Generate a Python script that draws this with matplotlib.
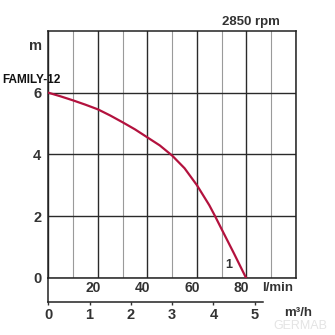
import matplotlib
matplotlib.use("Agg")
import matplotlib.pyplot as plt
import matplotlib.transforms as mtransforms

# pump curve: flow in l/min, head in m
flow_lmin = [0, 5, 10, 15, 20, 25, 30, 35, 40, 45, 50, 55, 60, 65, 67.3, 70, 75, 79.8]
head_m = [6.0, 5.88, 5.75, 5.61, 5.46, 5.26, 5.04, 4.81, 4.55, 4.29, 3.96, 3.55,
          3.0, 2.35, 2.0, 1.57, 0.78, 0.0]

lmin_labels = [20, 40, 60, 80]
m3h_ticks = [0, 1, 2, 3, 4, 5]
head_ticks = [0, 2, 4, 6]

W = H = 335.0
plt.rcParams['font.family'] = ['Liberation Sans', 'DejaVu Sans']
txt = '#333333'
red = '#b3123e'

fig = plt.figure(figsize=(3.35, 3.35), dpi=100)

# main chart box: 48..296 px wide, 31..278 px high
ax = fig.add_axes([48.3 / W, 1 - 277.7 / H, 247.7 / W, 246.7 / H])
ax.set_xlim(0, 100)
ax.set_ylim(0, 8)
ax.set_xticks(range(0, 101, 20))
ax.set_xticks(range(10, 100, 20), minor=True)
ax.set_yticks(head_ticks)
ax.set_yticklabels([str(v) for v in head_ticks])
ax.tick_params(axis='x', which='both', length=0, labelbottom=False)
ax.tick_params(axis='y', length=0, pad=5, labelsize=10.5, labelcolor=txt)
for lab in ax.get_yticklabels():
    lab.set_fontweight('bold')
ax.grid(which='major', color='#2a2a2a', lw=1.0)
ax.grid(which='minor', axis='x', color='#9a9a9a', lw=0.8)
for s in ax.spines.values():
    s.set_color('#222222')
    s.set_linewidth(1.1)

ax.plot(flow_lmin, head_m, color=red, lw=1.6, solid_capstyle='round',
        solid_joinstyle='round', zorder=5)

ytrans = ax.get_yaxis_transform()
ax.text(-0.025, 7.5, 'm', transform=ytrans, ha='right', va='center',
        fontsize=10.5, fontweight='bold', color=txt)
ax.text(-0.185, 6.42, 'FAMILY-12', transform=ytrans, ha='left', va='center',
        fontsize=8.5, fontweight='bold', color='#111111')
ax.text(0.82, 1.038, '2850 rpm', transform=ax.transAxes, ha='center', va='center',
        fontsize=9.5, fontweight='bold', color=txt)
ax.text(73, 0.42, '1', ha='center', va='center', fontsize=9, fontweight='bold', color=txt)

# l/min labels sit in the strip under the box, a little left of their lines
shift = mtransforms.offset_copy(ax.transData, fig=fig, x=-5, y=0, units='dots')
for v in lmin_labels:
    ax.text(v, -0.33, str(v), transform=shift, ha='center', va='center',
            fontsize=10, fontweight='bold', color=txt, clip_on=False)
ax.text(92.5, -0.33, 'l/min', ha='center', va='center', fontsize=9.5,
        fontweight='bold', color=txt, clip_on=False)

# second scale in m3/h
ax2 = fig.add_axes([48.3 / W, 1 - 302 / H, 214.7 / W, 24.3 / H])
ax2.set_xlim(0, 5.2)
ax2.set_ylim(0, 1)
ax2.patch.set_alpha(0)
ax2.set_xticks(m3h_ticks)
ax2.set_xticklabels([str(v) for v in m3h_ticks])
ax2.set_yticks([])
ax2.tick_params(axis='x', direction='out', length=2.5, width=1, color='#333333',
                pad=1.5, labelsize=10.5, labelcolor=txt)
for lab in ax2.get_xticklabels():
    lab.set_fontweight('bold')
ax2.spines['top'].set_visible(False)
ax2.spines['right'].set_visible(False)
for s in ('left', 'bottom'):
    ax2.spines[s].set_color('#222222')
    ax2.spines[s].set_linewidth(1.1)
ax2.text(298 / W, 1 - 312.5 / H, 'm³/h', transform=fig.transFigure, ha='center',
         va='center', fontsize=9.5, fontweight='bold', color=txt, zorder=3)

# faint watermark, kept just below the m3/h label
fig.text(300 / W, 1 - 326 / H, 'GERMAB', ha='center', va='center', fontsize=9,
         color='#e4e4e4', zorder=0)

fig.savefig('out.png', dpi=100)
